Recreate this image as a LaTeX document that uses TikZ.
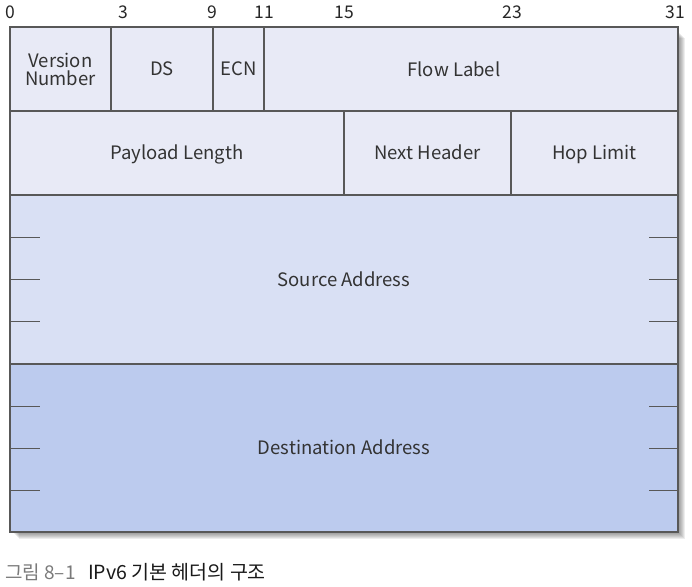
\documentclass[tikz,border=0pt]{standalone}
\usepackage{fontspec}
\setmainfont{Noto Sans CJK KR}
\usetikzlibrary{calc}
\definecolor{hdrfill}{HTML}{E8EAF6}
\definecolor{srcfill}{HTML}{D9E0F4}
\definecolor{dstfill}{HTML}{BCCBEE}
\definecolor{hdrline}{HTML}{585858}
\definecolor{captgray}{HTML}{7A7A7A}

\begin{document}
\begin{tikzpicture}[x=1pt, y=-1pt,
    field/.style={draw=hdrline, line width=1.2pt, fill=hdrfill, rectangle,
        inner sep=0pt, outer sep=0pt, align=center, text=black!80,
        font=\fontsize{18.5}{19}\selectfont},
    oneline/.style={text height=17pt, text depth=4pt},
    bitnum/.style={inner sep=0pt, text=black!85, font=\fontsize{17.5}{19}\selectfont},
    ticks/.style={draw=hdrline, line width=1pt}]
    \useasboundingbox (0,0) rectangle (692,586);
    % Soft shadow on the right and bottom
    \foreach \s in {1,...,7}
        \fill[black, opacity=0.07] (12+\s, 31+\s) rectangle (678+\s, 532+\s);
    % Row 1: version, DS, ECN, flow label
    \node[field, minimum width=101pt, minimum height=84pt] (ver) at (60.5,69) {Version\\[-1pt]Number};
    \node[field, oneline, minimum width=102pt, minimum height=84pt] (ds) at (162,69) {DS};
    \node[field, oneline, minimum width=51pt, minimum height=84pt] (ecn) at (238.5,69) {ECN};
    \node[field, minimum width=414pt, minimum height=84pt,
        label={[inner sep=0pt, text=black!80, font=\fontsize{18.5}{19}\selectfont, xshift=-17pt]center:Flow Label}] (flow) at (471,69) {};
    % Row 2: payload length, next header, hop limit
    \node[field, oneline, minimum width=334pt, minimum height=84pt] (plen) at (177,153) {Payload Length};
    \node[field, oneline, minimum width=167pt, minimum height=84pt] (nxt) at (427.5,153) {Next Header};
    \node[field, oneline, minimum width=167pt, minimum height=84pt] (hop) at (594.5,153) {Hop Limit};
    % Rows 3-4: 128-bit addresses
    \node[field, oneline, fill=srcfill, minimum width=668pt, minimum height=169pt] (src) at (344,279.5) {Source Address};
    \node[field, oneline, fill=dstfill, minimum width=668pt, minimum height=168pt] (dst) at (344,448) {Destination Address};
    % Word ticks on both sides (quarters)
    \foreach \f in {0.25,0.5,0.75} {
        \draw[ticks] ($(src.north west)!\f!(src.south west)$) -- ++(30,0);
        \draw[ticks] ($(src.north east)!\f!(src.south east)$) -- ++(-29,0);
        \draw[ticks] ($(dst.north west)!\f!(dst.south west)$) -- ++(30,0);
        \draw[ticks] ($(dst.north east)!\f!(dst.south east)$) -- ++(-29,0);
    }
    % Bit positions
    \foreach \b/\x in {0/10, 3/123, 9/212, 11/264, 15/344, 23/512, 31/675}
        \node[bitnum] (bit\b) at (\x,12.5) {\b};
    % Caption
    \node[anchor=west, inner sep=0pt, text=captgray, font=\fontsize{19}{21}\selectfont] (captnum) at (5,572) {그림 8–1};
    \node[anchor=west, inner sep=0pt, text=black!90, font=\fontsize{19.5}{21}\selectfont] (capttitle) at (88,572) {IPv6 기본 헤더의 구조};
\end{tikzpicture}
\end{document}
